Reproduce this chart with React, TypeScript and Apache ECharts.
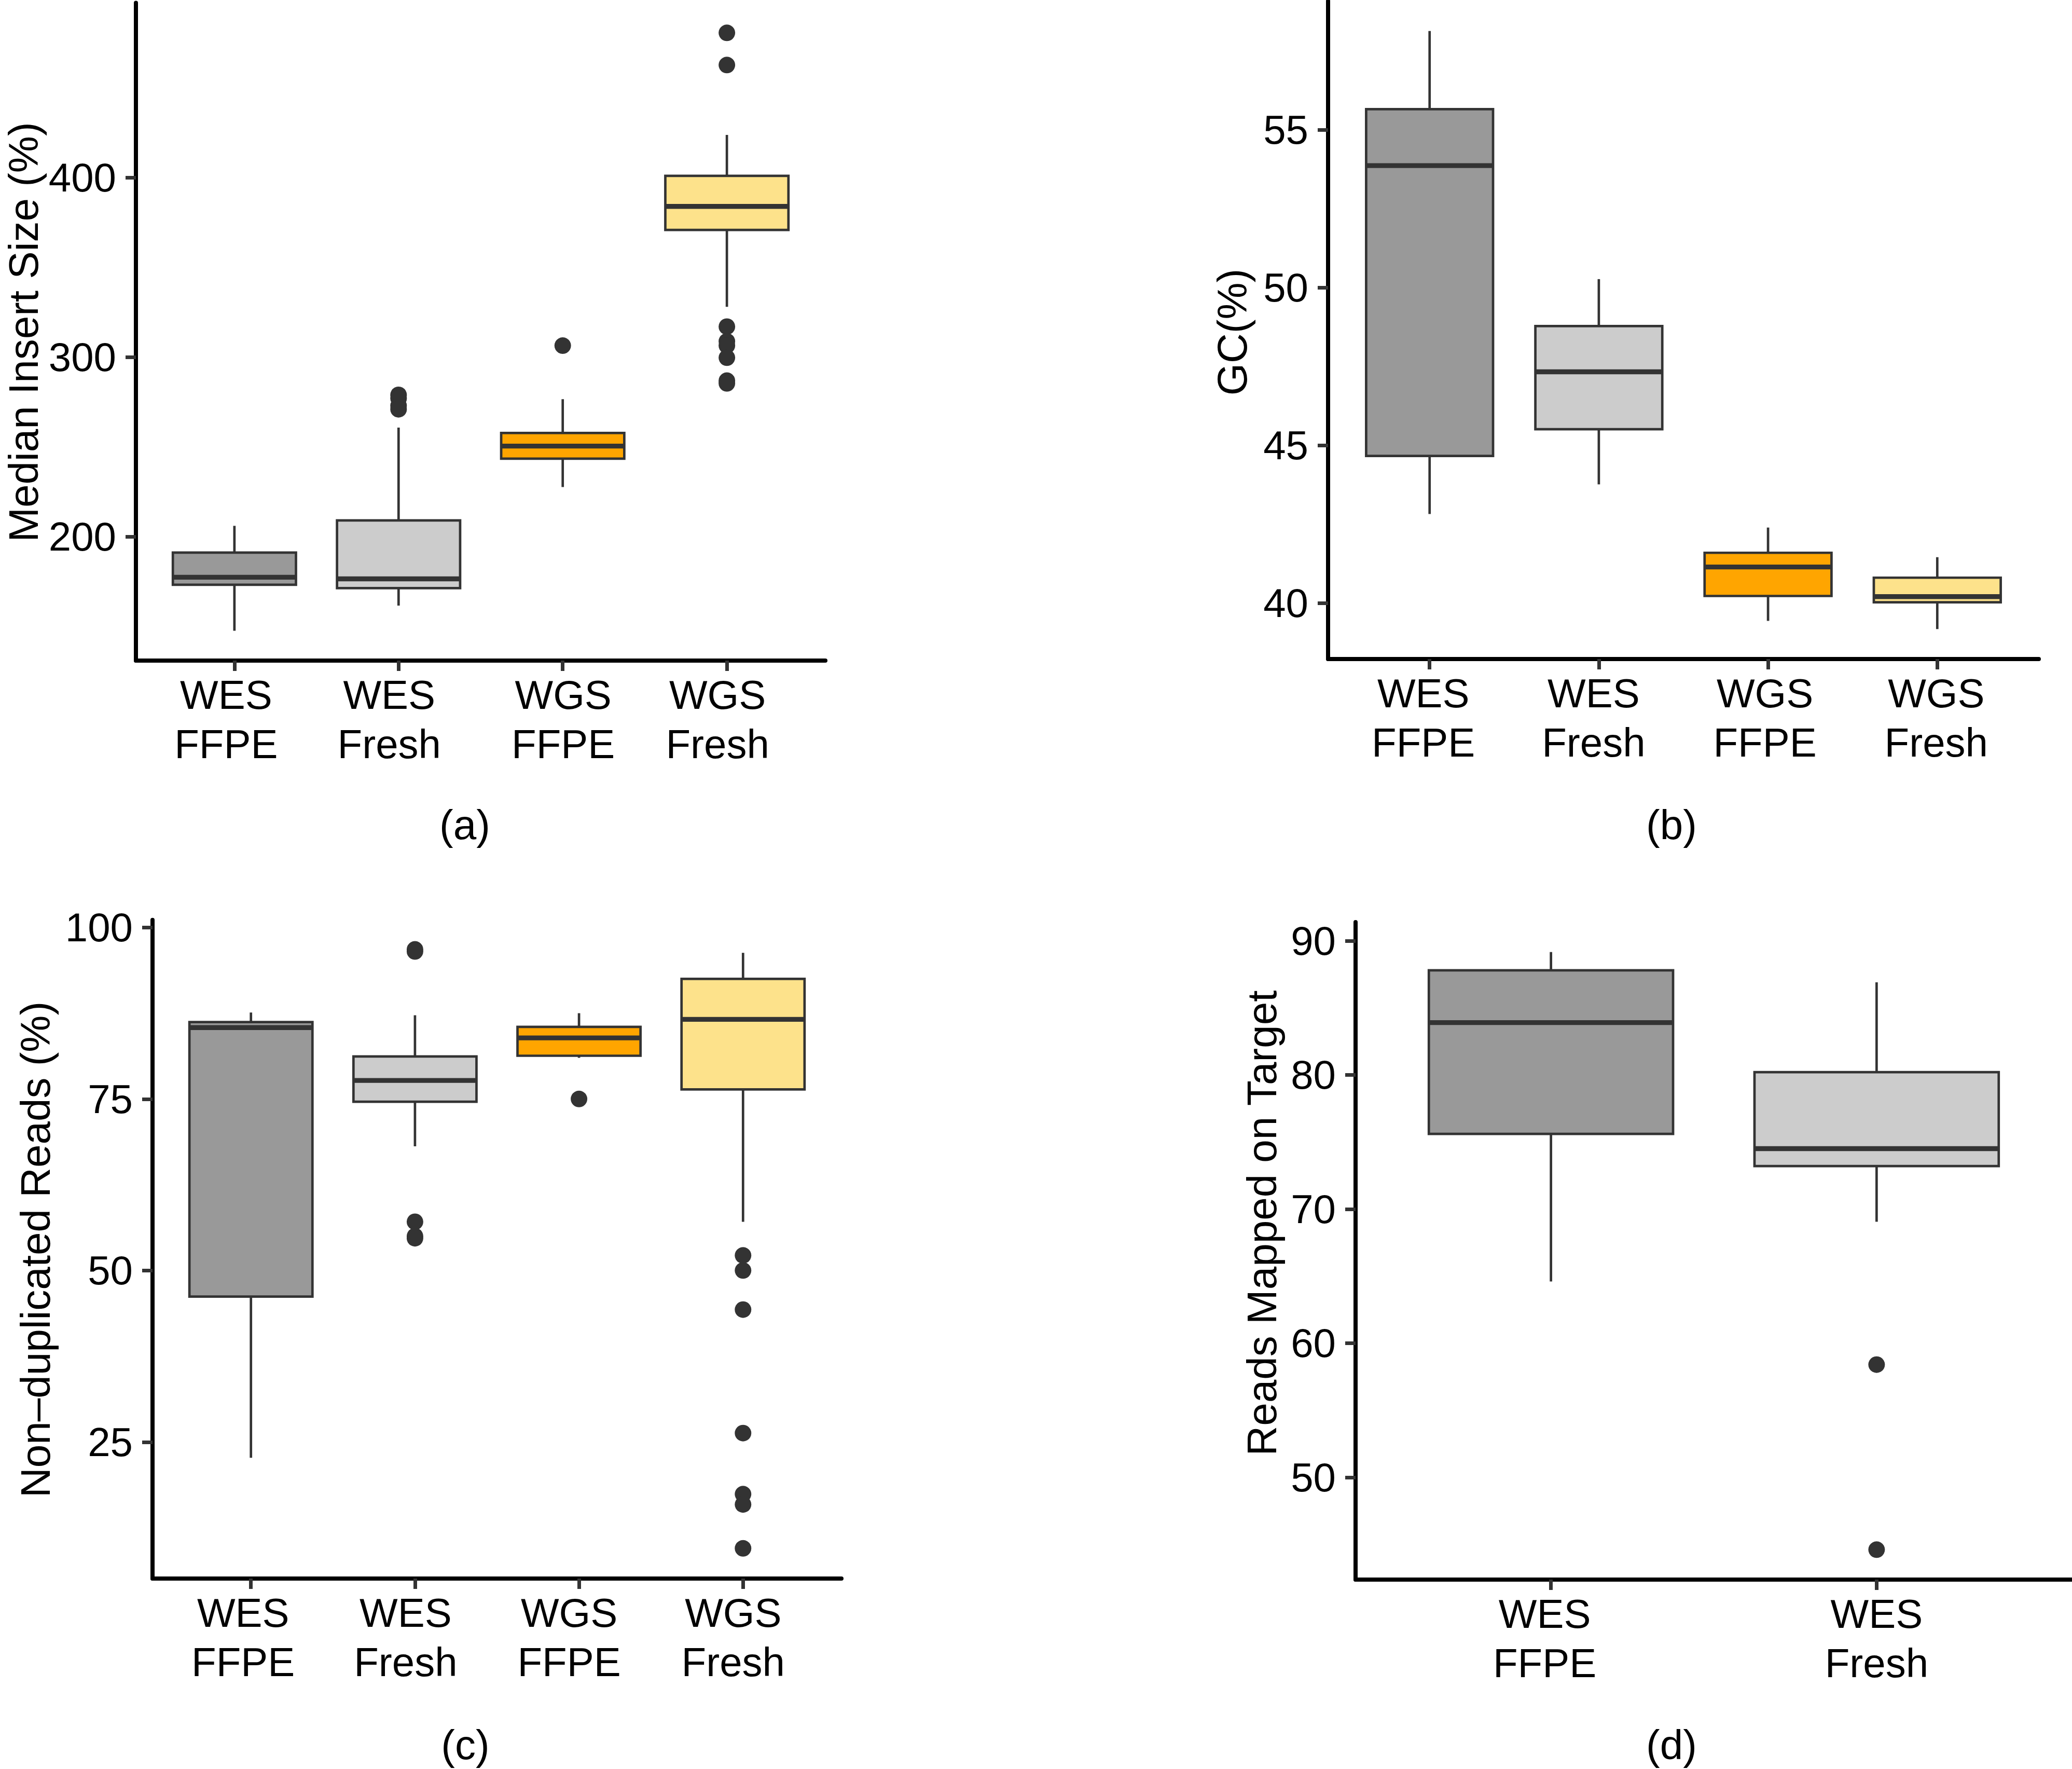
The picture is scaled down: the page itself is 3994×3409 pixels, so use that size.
import React, { useEffect, useRef } from "react";
import * as echarts from "echarts";

// ---------- data ----------
const catsFour = ["WES\nFFPE", "WES\nFresh", "WGS\nFFPE", "WGS\nFresh"];
const catsTwo = ["WES\nFFPE", "WES\nFresh"];
const boxColors = ["#999999", "#CCCCCC", "#FFA500", "#FDE28B"];

// box stats per category: [lowerWhisker, q1, median, q3, upperWhisker]
const insertBoxes = [
  [147.7, 173.3, 177.5, 191.2, 206.1],
  [161.7, 171.4, 176.6, 209.1, 260.8],
  [227.7, 243.5, 250.5, 257.8, 276.6],
  [328.0, 370.8, 383.9, 400.9, 423.7],
];
const insertOutliers = [
  [],
  [279, 277, 273, 271],
  [306.4],
  [480.5, 462.6, 317, 308.8, 306.4, 299.7, 286.9, 285.4],
];
const insertTicks = [200, 300, 400];

const gcBoxes = [
  [42.82, 44.66, 53.87, 55.66, 58.14],
  [43.76, 45.51, 47.33, 48.78, 50.27],
  [39.43, 40.22, 41.14, 41.59, 42.39],
  [39.17, 40.02, 40.2, 40.8, 41.45],
];
const gcOutliers = [[], [], [], []];
const gcTicks = [40, 45, 50, 55];

const nondupBoxes = [
  [22.7, 46.2, 85.4, 86.2, 87.6],
  [68.1, 74.6, 77.7, 81.2, 87.2],
  [81.0, 81.3, 83.9, 85.5, 87.5],
  [57.1, 76.4, 86.6, 92.5, 96.3],
];
const nondupOutliers = [
  [],
  [96.8, 96.5, 57.1, 55.0, 54.7],
  [75.0],
  [52.2, 50.0, 44.3, 26.3, 17.4, 15.9, 9.5],
];
const nondupTicks = [25, 50, 75, 100];

const targetBoxes = [
  [64.6, 75.6, 83.9, 87.8, 89.16],
  [69.05, 73.2, 74.5, 80.2, 86.9],
];
const targetOutliers = [[], [58.4, 44.6]];
const targetTicks = [50, 60, 70, 80, 90];

const FONT = "'Liberation Sans', Arial, Helvetica, sans-serif";

type Panel = {
  cats: string[];
  labelShift: number[];
  boxes: number[][];
  outliers: number[][];
  ticks: number[];
  ymin: number;
  ymax: number;
  grid: { left: number; top: number; width: number; height: number };
  title: string;
  titlePos: [number, number];
  caption: string;
  captionPos: [number, number];
};

const panels: Panel[] = [
  {
    cats: catsFour, labelShift: [-16, -18, 1, -18],
    boxes: insertBoxes, outliers: insertOutliers, ticks: insertTicks,
    ymin: 131.1, ymax: 497.2,
    grid: { left: 262, top: 5.5, width: 1329, height: 1267.5 },
    title: "Median Insert Size (%)", titlePos: [45, 640],
    caption: "(a)", captionPos: [896, 1589],
  },
  {
    cats: catsFour, labelShift: [-12, -10, -6, -2],
    boxes: gcBoxes, outliers: gcOutliers, ticks: gcTicks,
    ymin: 38.22, ymax: 59.09,
    grid: { left: 2560, top: 2, width: 1370, height: 1268 },
    title: "GC(%)", titlePos: [2375, 640],
    caption: "(b)", captionPos: [3222, 1589],
  },
  {
    cats: catsFour, labelShift: [-15, -18, -19, -19],
    boxes: nondupBoxes, outliers: nondupOutliers, ticks: nondupTicks,
    ymin: 5.1, ymax: 101.1,
    grid: { left: 294, top: 1772.7, width: 1328, height: 1269.3 },
    title: "Non\u2013duplicated Reads (%)", titlePos: [68, 2408],
    caption: "(c)", captionPos: [897, 3362],
  },
  {
    cats: catsTwo, labelShift: [-12, 0],
    boxes: targetBoxes, outliers: targetOutliers, ticks: targetTicks,
    ymin: 42.37, ymax: 91.39,
    grid: { left: 2613, top: 1777, width: 1381, height: 1267 },
    title: "Reads Mapped on Target", titlePos: [2432, 2357],
    caption: "(d)", captionPos: [3222, 3362],
  },
];

function buildOption() {
  const grids: any[] = [];
  const xAxes: any[] = [];
  const yAxes: any[] = [];
  const series: any[] = [];
  const graphics: any[] = [];

  panels.forEach((p, i) => {
    grids.push({ ...p.grid, containLabel: false, outerBoundsMode: "none" });
    const n = p.cats.length;
    const catIdx = p.cats.map((_, k) => k + 1);
    const rich: any = {};
    p.cats.forEach((_, k) => {
      const off = p.labelShift[k];
      rich["c" + k] = {
        fontSize: 78,
        lineHeight: 95,
        color: "#000",
        fontFamily: FONT,
        padding: off < 0 ? [0, -2 * off, 0, 0] : [0, 0, 0, 2 * off],
      };
    });
    xAxes.push({
      type: "value",
      gridIndex: i,
      min: 0.4,
      max: n + 0.6,
      axisLine: { show: true, onZero: false, lineStyle: { color: "#000", width: 8 } },
      axisTick: { show: true, customValues: catIdx, length: 20, lineStyle: { color: "#333", width: 7 } },
      axisLabel: {
        show: true,
        customValues: catIdx,
        formatter: (v: number) => {
          const k = Math.round(v) - 1;
          const label = p.cats[k];
          if (!label) return "";
          return label
            .split("\n")
            .map((line) => "{c" + k + "|" + line + "}")
            .join("\n");
        },
        rich,
        margin: 18,
        fontSize: 78,
        lineHeight: 95,
        color: "#000",
        fontFamily: FONT,
      },
      splitLine: { show: false },
    });
    yAxes.push({
      type: "value",
      gridIndex: i,
      min: p.ymin,
      max: p.ymax,
      axisLine: { show: true, onZero: false, lineStyle: { color: "#000", width: 8 } },
      axisTick: { show: true, customValues: p.ticks, length: 20, lineStyle: { color: "#333", width: 7 } },
      axisLabel: {
        show: true,
        customValues: p.ticks,
        margin: 38,
        fontSize: 78,
        color: "#000",
        fontFamily: FONT,
      },
      splitLine: { show: false },
    });

    const boxData = p.boxes.map((b, k) => [k + 1, b[0], b[1], b[2], b[3], b[4]]);
    series.push({
      type: "custom",
      xAxisIndex: i,
      yAxisIndex: i,
      data: boxData,
      encode: { x: 0, y: [1, 2, 3, 4, 5] },
      renderItem: (params: any, api: any) => {
        const x = api.value(0);
        const lo = api.coord([x, api.value(1)]);
        const q1 = api.coord([x, api.value(2)]);
        const md = api.coord([x, api.value(3)]);
        const q3 = api.coord([x, api.value(4)]);
        const hi = api.coord([x, api.value(5)]);
        const w = api.size([0.75, 0])[0];
        const cx = md[0];
        const color = boxColors[Math.round(x) - 1];
        const stroke = { stroke: "#333333", lineWidth: 4.7 };
        return {
          type: "group",
          children: [
            { type: "line", shape: { x1: cx, y1: hi[1], x2: cx, y2: q3[1] }, style: stroke },
            { type: "line", shape: { x1: cx, y1: q1[1], x2: cx, y2: lo[1] }, style: stroke },
            {
              type: "rect",
              shape: { x: cx - w / 2, y: q3[1], width: w, height: q1[1] - q3[1] },
              style: { fill: color, stroke: "#333333", lineWidth: 4.7 },
            },
            {
              type: "line",
              shape: { x1: cx - w / 2, y1: md[1], x2: cx + w / 2, y2: md[1] },
              style: { stroke: "#333333", lineWidth: 9.4 },
            },
          ],
        };
      },
    });

    const outData: number[][] = [];
    p.outliers.forEach((arr, k) => arr.forEach((v) => outData.push([k + 1, v])));
    series.push({
      type: "scatter",
      xAxisIndex: i,
      yAxisIndex: i,
      data: outData,
      symbol: "circle",
      symbolSize: 32,
      itemStyle: { color: "#333333", opacity: 1 },
    });

    graphics.push({
      type: "text",
      x: p.titlePos[0],
      y: p.titlePos[1],
      rotation: Math.PI / 2,
      style: {
        text: p.title,
        fontSize: 80,
        fontFamily: FONT,
        fill: "#000",
        textAlign: "center",
        textVerticalAlign: "middle",
      },
    });
    graphics.push({
      type: "text",
      x: p.captionPos[0],
      y: p.captionPos[1],
      style: {
        text: p.caption,
        fontSize: 80,
        fontFamily: FONT,
        fill: "#000",
        textAlign: "center",
        textVerticalAlign: "middle",
      },
    });
  });

  return {
    animation: false,
    backgroundColor: "#ffffff",
    grid: grids,
    xAxis: xAxes,
    yAxis: yAxes,
    series,
    graphic: graphics,
  };
}

export default function App() {
  const ref = useRef<HTMLDivElement>(null);
  useEffect(() => {
    if (!ref.current) return;
    const chart = echarts.init(ref.current, undefined, { renderer: "svg" });
    chart.setOption(buildOption() as any);
    return () => chart.dispose();
  }, []);
  return (
    <div
      ref={ref}
      style={{ position: "absolute", left: 0, top: 0, width: 3994, height: 3409, background: "#fff" }}
    />
  );
}
